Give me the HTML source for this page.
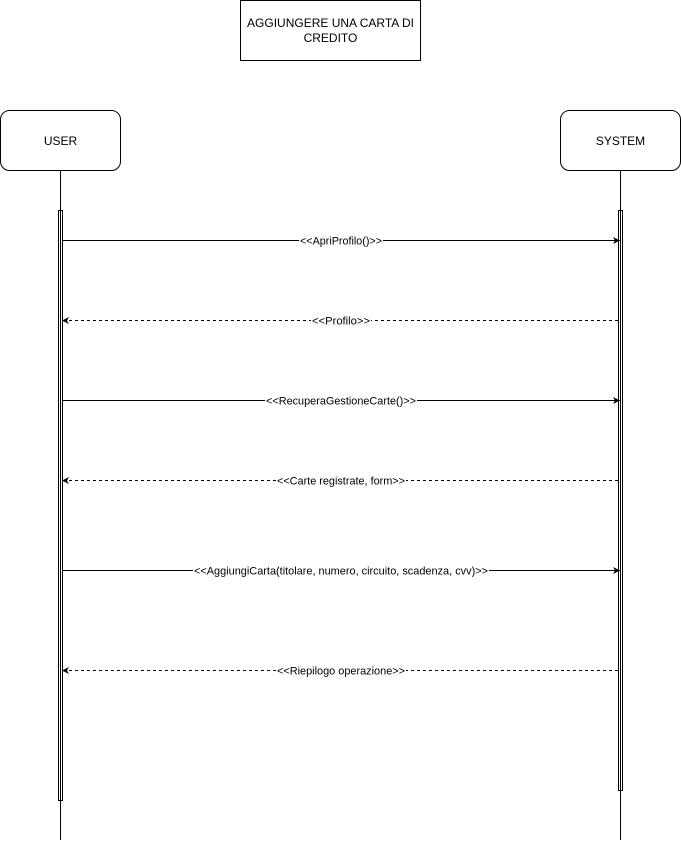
<!DOCTYPE html>
<html><head><meta charset="utf-8"><style>
html,body{margin:0;padding:0;background:#fff;}
svg{display:block;}
text{font-family:"Liberation Sans",Arial,sans-serif;fill:#000;}
.lbl{font-size:11px;text-anchor:middle;}
</style></head><body>
<svg width="681" height="842" viewBox="0 0 681 842" xmlns="http://www.w3.org/2000/svg">
<defs>
<marker id="a" markerWidth="8" markerHeight="8" refX="7" refY="4" orient="auto" markerUnits="userSpaceOnUse">
<path d="M0,0.5 L7,4 L0,7.5 L2,4 Z" fill="#000"/></marker>
</defs>
<rect x="240.5" y="0.5" width="180" height="60" fill="#fff" stroke="#000"/>
<text x="330.5" y="27" font-size="12" text-anchor="middle">AGGIUNGERE UNA CARTA DI</text>
<text x="330.5" y="42" font-size="12" text-anchor="middle">CREDITO</text>

<rect x="0.5" y="110.5" width="120" height="60" rx="9" fill="#fff" stroke="#000"/>
<text x="60.5" y="145" font-size="12" text-anchor="middle">USER</text>
<rect x="560.5" y="110.5" width="120" height="60" rx="9" fill="#fff" stroke="#000"/>
<text x="620.5" y="145" font-size="12" text-anchor="middle">SYSTEM</text>

<line x1="60.5" y1="170.5" x2="60.5" y2="840" stroke="#000"/>
<line x1="620.5" y1="170.5" x2="620.5" y2="840" stroke="#000"/>
<rect x="58.5" y="210.5" width="4" height="590" fill="none" stroke="#000"/>
<rect x="618.5" y="210.5" width="4" height="580" fill="none" stroke="#000"/>

<g stroke="#000" fill="none">
<line x1="62" y1="240.5" x2="620" y2="240.5" marker-end="url(#a)"/>
<line x1="618" y1="320.5" x2="62" y2="320.5" stroke-dasharray="3,3" marker-end="url(#a)"/>
<line x1="62" y1="400.5" x2="620" y2="400.5" marker-end="url(#a)"/>
<line x1="618" y1="480.5" x2="62" y2="480.5" stroke-dasharray="3,3" marker-end="url(#a)"/>
<line x1="62" y1="570.5" x2="620" y2="570.5" marker-end="url(#a)"/>
<line x1="618" y1="670.5" x2="62" y2="670.5" stroke-dasharray="3,3" marker-end="url(#a)"/>
</g>
<g>
<rect x="299" y="234" width="84" height="13" fill="#fff"/>
<text class="lbl" x="341" y="244.5" textLength="82" lengthAdjust="spacingAndGlyphs">&lt;&lt;ApriProfilo()&gt;&gt;</text>
<rect x="311" y="314" width="60" height="13" fill="#fff"/>
<text class="lbl" x="341" y="324.5" textLength="58" lengthAdjust="spacingAndGlyphs">&lt;&lt;Profilo&gt;&gt;</text>
<rect x="265" y="394" width="152" height="13" fill="#fff"/>
<text class="lbl" x="341" y="404.5" textLength="150" lengthAdjust="spacingAndGlyphs">&lt;&lt;RecuperaGestioneCarte()&gt;&gt;</text>
<rect x="276" y="474" width="130" height="13" fill="#fff"/>
<text class="lbl" x="341" y="484.5" textLength="128" lengthAdjust="spacingAndGlyphs">&lt;&lt;Carte registrate, form&gt;&gt;</text>
<rect x="193" y="564" width="296" height="13" fill="#fff"/>
<text class="lbl" x="341" y="574.5" textLength="294" lengthAdjust="spacingAndGlyphs">&lt;&lt;AggiungiCarta(titolare, numero, circuito, scadenza, cvv)&gt;&gt;</text>
<rect x="276" y="664" width="130" height="13" fill="#fff"/>
<text class="lbl" x="341" y="674.5" textLength="128" lengthAdjust="spacingAndGlyphs">&lt;&lt;Riepilogo operazione&gt;&gt;</text>
</g>
</svg>
</body></html>
